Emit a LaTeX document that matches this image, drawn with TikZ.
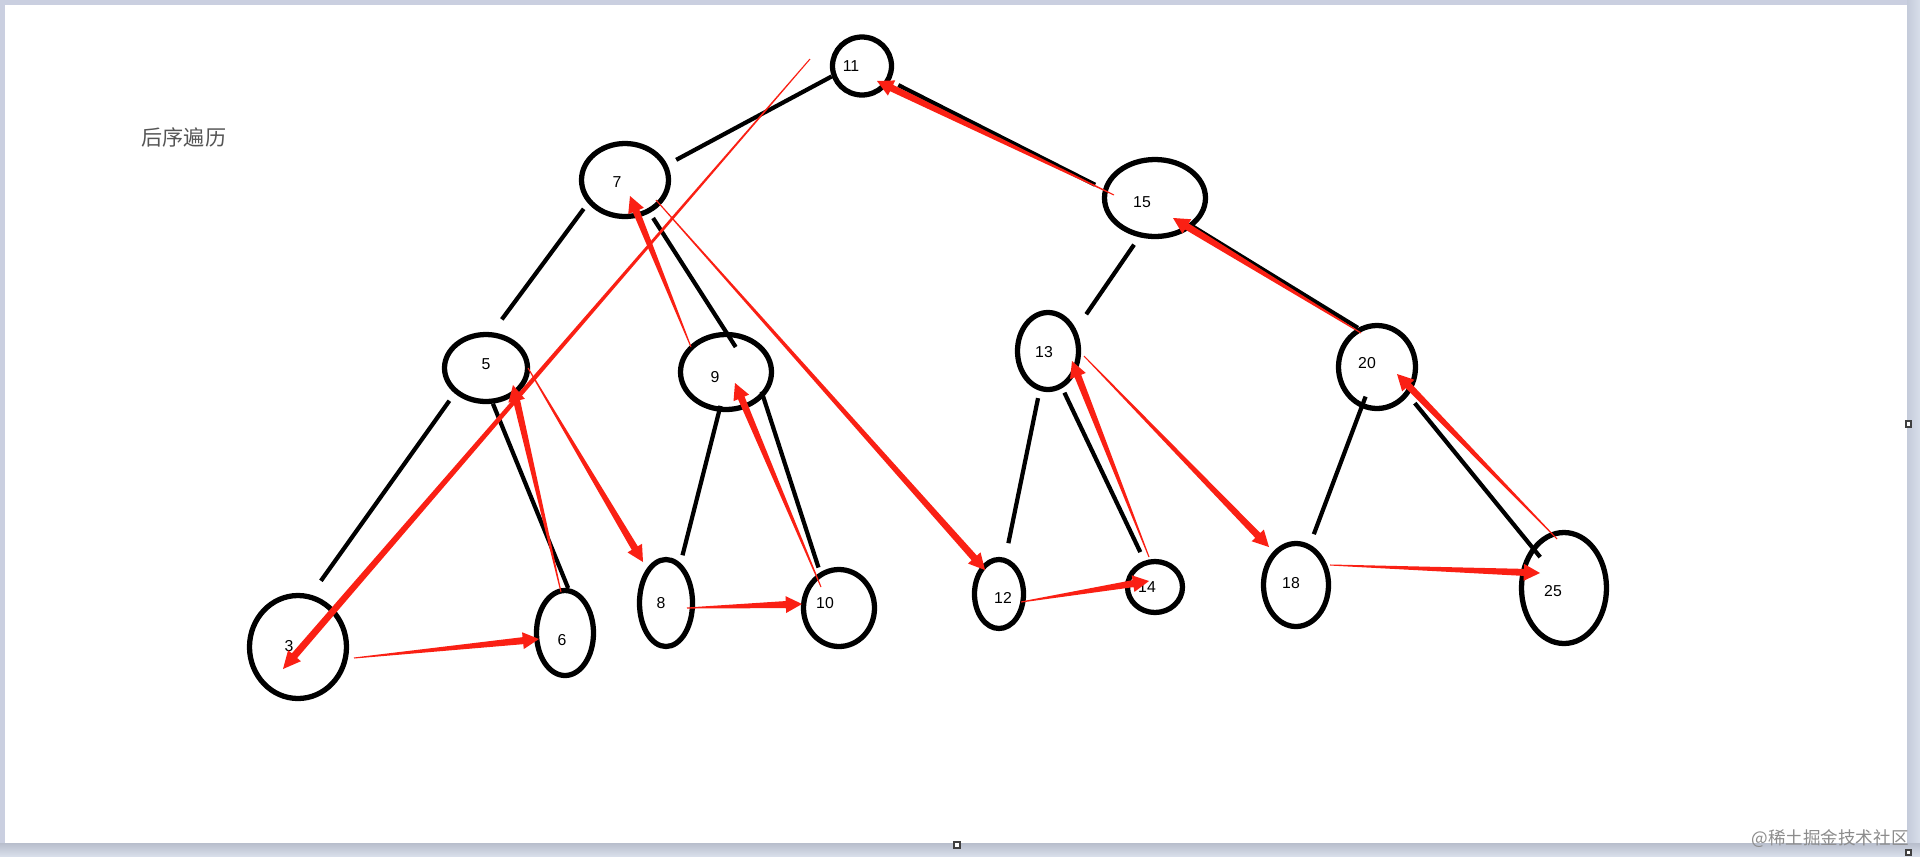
\documentclass[tikz,border=0pt]{standalone}
\usepackage{fontspec}
\setmainfont{Liberation Sans}
\newfontfamily\cjk{Noto Sans CJK SC}
\usepackage{tikz}
\usetikzlibrary{calc,shapes.geometric}
\definecolor{tred}{RGB}{250,32,20}
\definecolor{frameblue}{RGB}{202,207,224}
\definecolor{titlegray}{RGB}{85,85,85}

\tikzset{
  vtx/.style={ellipse, draw, line width=1.5pt, inner sep=0pt},
  every label/.append style={font=\fontsize{4.5}{5}\selectfont, inner sep=0pt},
  twig/.style={line width=1.2pt},
  brush/.style={draw=none, fill=tred, to path={
    let \p1=(\tikztostart), \p2=(\tikztotarget),
        \p3=($(\p2)!#1!(\p1)$) in
    ($(\p1)!0.15pt!90:(\p2)$) -- ($(\p3)!1pt!90:(\p2)$)
    -- ($(\p3)!2.4pt!90:(\p2)$) -- (\p2)
    -- ($(\p3)!2.4pt!-90:(\p2)$) -- ($(\p3)!1pt!-90:(\p2)$)
    -- ($(\p1)!0.15pt!-90:(\p2)$) -- cycle}},
  brush/.default=4.6pt
}

\begin{document}
\begin{tikzpicture}[x=0.1mm, y=-0.1mm]
% window frame
\useasboundingbox (0,0) rectangle (1920,856);
\fill[frameblue] (0,0) rectangle (1920,856);
\shade[left color={rgb,255:red,196;green,203;blue,218}, right color={rgb,255:red,216;green,222;blue,234}] (1907,0) rectangle (1920,856);
\shade[top color={rgb,255:red,184;green,190;blue,204}, bottom color={rgb,255:red,216;green,222;blue,234}] (0,843) rectangle (1920,856);
\fill[white] (5,5) rectangle (1907,843);

% title
\node[font=\cjk\fontsize{6}{7}\selectfont, text=titlegray] (title) at (184,137) {后序遍历};

% tree nodes (numbers sit a little off centre, as drawn by hand)
\node[vtx, minimum width=5.9mm, minimum height=5.8mm, label={[shift={(-11,0)}]center:11}] (n11) at (862,66) {};
\node[vtx, minimum width=8.7mm, minimum height=7.3mm, label={[shift={(-8,2)}]center:7}] (n7) at (625,180) {};
\node[vtx, minimum width=10.1mm, minimum height=7.7mm, label={[shift={(-13,4)}]center:15}] (n15) at (1155,198) {};
\node[vtx, minimum width=8.3mm, minimum height=6.7mm, label={[shift={(0,-4)}]center:5}] (n5) at (486,368) {};
\node[vtx, minimum width=9.1mm, minimum height=7.5mm, label={[shift={(-11,5)}]center:9}] (n9) at (726,372) {};
\node[vtx, minimum width=6.1mm, minimum height=7.7mm, label={[shift={(-4,1)}]center:13}] (n13) at (1048,351) {};
\node[vtx, minimum width=7.7mm, minimum height=8.3mm, label={[shift={(-10,-4)}]center:20}] (n20) at (1377,367) {};
\node[vtx, minimum width=9.7mm, minimum height=10.3mm, label={[shift={(-9,-1)}]center:3}] (n3) at (298,647) {};
\node[vtx, minimum width=5.7mm, minimum height=8.5mm, label={[shift={(-3,7)}]center:6}] (n6) at (565,633) {};
\node[vtx, minimum width=5.3mm, minimum height=8.7mm, label={[shift={(-5,0)}]center:8}] (n8) at (666,603) {};
\node[vtx, minimum width=7.1mm, minimum height=7.7mm, label={[shift={(-14,-5)}]center:10}] (n10) at (839,608) {};
\node[vtx, minimum width=4.9mm, minimum height=6.9mm, label={[shift={(4,4)}]center:12}] (n12) at (999,594) {};
\node[vtx, minimum width=5.5mm, minimum height=5.1mm, label={[shift={(-8,0)}]center:14}] (n14) at (1155,587) {};
\node[vtx, minimum width=6.5mm, minimum height=8.3mm, label={[shift={(-5,-2)}]center:18}] (n18) at (1296,585) {};
\node[vtx, minimum width=8.5mm, minimum height=11.1mm, label={[shift={(-11,3)}]center:25}] (n25) at (1564,588) {};

% black tree edges
\draw[twig, shorten >=1mm] (n11.199) -- (n7.20);
\draw[twig, shorten <=0.9mm, shorten >=0.9mm] (n11.-28) -- (n15.170);
\draw[twig, shorten <=0.7mm, shorten >=1.6mm] (n7.212) -- (n5.80);
\draw[twig, shorten <=0.6mm, shorten >=-1.8mm] (n7.-53) -- (n9.90);
\draw[twig, shorten <=0.9mm, shorten >=1.7mm] (n5.219) -- (n3.76);
\draw[twig] (n5.-79) -- (n6.86);
\draw[twig, shorten <=-0.6mm, shorten >=0.8mm] (n9.260) -- (n8.70);
\draw[twig, shorten <=-0.6mm, shorten >=0.5mm] (n9.-34) -- (n10.118);
\draw[twig, shorten <=0.9mm, shorten >=1.8mm] (n15.248) -- (n13.38);
\draw[twig] (n15.-37) -- (n20.116);
\draw[twig, shorten <=0.75mm, shorten >=1.5mm] (n13.258) -- (n12.80);
\draw[twig, shorten <=0.5mm, shorten >=0.95mm] (n13.-69) -- (n14.112);
\draw[twig, shorten <=-1.2mm, shorten >=1.1mm] (n20.249) -- (n18.71);
\draw[twig, shorten <=1mm, shorten >=-1.3mm] (n20.-42) -- (n25.128);

% red post-order strokes
\path[brush=5pt] ([shift={(-52,-7)}]n11.center) to ([shift={(-15,22)}]n3.center);
\path[brush] ([shift={(56,11)}]n3.center) to ([shift={(-26,6)}]n6.center);
\path[brush] ([shift={(-4,-41)}]n6.center) to ([shift={(27,17)}]n5.center);
\path[brush] ([shift={(42,0)}]n5.center) to ([shift={(-23,-41)}]n8.center);
\path[brush] ([shift={(21,5)}]n8.center) to ([shift={(-37,-4)}]n10.center);
\path[brush] ([shift={(-18,-21)}]n10.center) to ([shift={(9,11)}]n9.center);
\path[brush] ([shift={(-35,-25)}]n9.center) to ([shift={(5,16)}]n7.center);
\path[brush] ([shift={(31,20)}]n7.center) to ([shift={(-14,-24)}]n12.center);
\path[brush] ([shift={(22,8)}]n12.center) to ([shift={(-6,-6)}]n14.center);
\path[brush] ([shift={(-6,-30)}]n14.center) to ([shift={(24,10)}]n13.center);
\path[brush] ([shift={(36,5)}]n13.center) to ([shift={(-27,-38)}]n18.center);
\path[brush] ([shift={(34,-20)}]n18.center) to ([shift={(-24,-15)}]n25.center);
\path[brush] ([shift={(-7,-49)}]n25.center) to ([shift={(20,7)}]n20.center);
\path[brush] ([shift={(-16,-34)}]n20.center) to ([shift={(18,20)}]n15.center);
\path[brush] ([shift={(-41,-3)}]n15.center) to ([shift={(15,15)}]n11.center);

% resize handles and watermark
\draw[line width=0.5pt, draw=black!75, fill=white] (1906,421) rectangle (1911,427);
\draw[line width=0.5pt, draw=black!75, fill=white] (954,842) rectangle (960,848);
\draw[line width=0.5pt, draw=black!75, fill=white] (1906,850) rectangle (1911,855);
\node[font=\cjk\fontsize{5}{6}\selectfont, text=black!45] (mark) at (1830,839) {@稀土掘金技术社区};
\end{tikzpicture}
\end{document}
